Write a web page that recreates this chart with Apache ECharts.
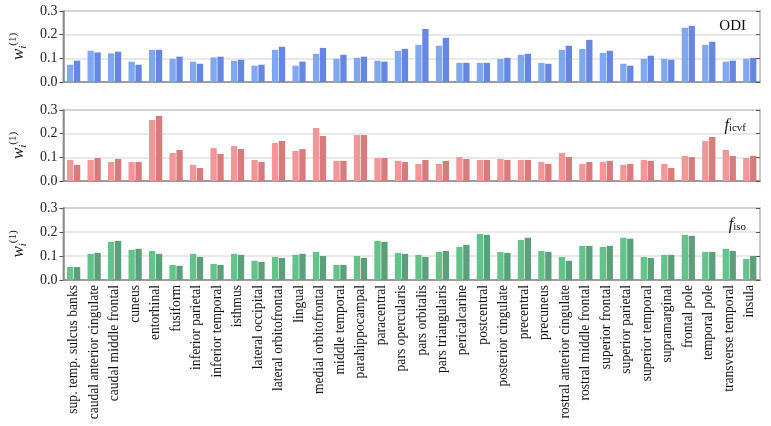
<!DOCTYPE html>
<html>
<head>
<meta charset="utf-8">
<script src="https://cdn.jsdelivr.net/npm/echarts@6/dist/echarts.min.js"></script>
<style>
  html, body { margin: 0; padding: 0; background: #fff; }
  #chart { width: 771px; height: 426px; }
</style>
</head>
<body>
<div id="chart"></div>
<script>
// brain regions
const regions = [
  'sup. temp. sulcus banks', 'caudal anterior cingulate', 'caudal middle frontal', 'cuneus',
  'entorhinal', 'fusiform', 'inferior parietal', 'inferior temporal', 'isthmus',
  'lateral occipital', 'lateral orbitofrontal', 'lingual', 'medial orbitofrontal',
  'middle temporal', 'parahippocampal', 'paracentral', 'pars opercularis', 'pars orbitalis',
  'pars triangularis', 'pericalcarine', 'postcentral', 'posterior cingulate', 'precentral',
  'precuneus', 'rostral anterior cingulate', 'rostral middle frontal', 'superior frontal',
  'superior parietal', 'superior temporal', 'supramarginal', 'frontal pole', 'temporal pole',
  'transverse temporal', 'insula'
];

// ODI (light / dark)
const odiA = [0.073, 0.132, 0.121, 0.086, 0.136, 0.098, 0.086, 0.104, 0.090, 0.069, 0.136, 0.069,
  0.119, 0.098, 0.102, 0.090, 0.132, 0.157, 0.153, 0.081, 0.081, 0.098, 0.115, 0.081,
  0.136, 0.140, 0.123, 0.077, 0.098, 0.098, 0.229, 0.157, 0.086, 0.098];
const odiB = [0.090, 0.125, 0.128, 0.073, 0.136, 0.107, 0.077, 0.107, 0.094, 0.073, 0.149, 0.086,
  0.144, 0.115, 0.107, 0.086, 0.140, 0.224, 0.187, 0.081, 0.081, 0.102, 0.119, 0.077,
  0.153, 0.178, 0.132, 0.069, 0.111, 0.094, 0.237, 0.170, 0.090, 0.102];

// f_icvf
const icvfA = [0.089, 0.089, 0.080, 0.080, 0.258, 0.118, 0.068, 0.139, 0.148, 0.089, 0.161, 0.127,
  0.224, 0.085, 0.194, 0.097, 0.085, 0.072, 0.072, 0.101, 0.089, 0.093, 0.089, 0.080,
  0.118, 0.072, 0.080, 0.068, 0.089, 0.072, 0.106, 0.169, 0.131, 0.097];
const icvfB = [0.068, 0.097, 0.093, 0.080, 0.275, 0.131, 0.055, 0.114, 0.135, 0.080, 0.169, 0.135,
  0.190, 0.085, 0.194, 0.097, 0.080, 0.089, 0.085, 0.093, 0.089, 0.089, 0.089, 0.072,
  0.101, 0.080, 0.085, 0.072, 0.085, 0.055, 0.101, 0.186, 0.106, 0.106];

// f_iso
const isoA = [0.054, 0.109, 0.159, 0.126, 0.121, 0.063, 0.109, 0.067, 0.109, 0.080, 0.096, 0.105,
  0.117, 0.063, 0.100, 0.163, 0.113, 0.105, 0.117, 0.138, 0.192, 0.117, 0.167, 0.121,
  0.096, 0.142, 0.138, 0.176, 0.096, 0.105, 0.188, 0.117, 0.130, 0.088];
const isoB = [0.054, 0.113, 0.163, 0.130, 0.109, 0.059, 0.096, 0.063, 0.105, 0.075, 0.092, 0.109,
  0.100, 0.063, 0.092, 0.159, 0.109, 0.096, 0.121, 0.146, 0.188, 0.113, 0.176, 0.117,
  0.080, 0.142, 0.142, 0.172, 0.092, 0.105, 0.184, 0.117, 0.121, 0.100];

const serif = 'Liberation Serif';
const grids = [
  { top: 11, height: 71 },
  { top: 110, height: 71 },
  { top: 208, height: 72 }
];
const colors = [
  ['#80a8f0', '#6686e3'],
  ['#f29697', '#d77b7c'],
  ['#63c38b', '#5ba07a']
];
const data = [[odiA, odiB], [icvfA, icvfB], [isoA, isoB]];

// italic f with a subscript, used for the panel tags
function tagRich() {
  return {
    fontWeight: 'normal',
    rich: {
      f: { fontFamily: serif, fontStyle: 'italic', fontWeight: 'normal', fontSize: 16, color: '#111' },
      s: { fontFamily: serif, fontWeight: 'normal', fontSize: 11, color: '#111', padding: [6, 0, 0, 0] }
    }
  };
}

const chart = echarts.init(document.getElementById('chart'));

let option = {
  backgroundColor: '#fff',
  animation: false,
  title: [
    { text: 'ODI', right: 20, top: 14, textStyle: { fontFamily: serif, fontSize: 15, fontWeight: 'normal', color: '#111' } },
    { text: '{f|f}{s|icvf}', right: 20, top: 112, textStyle: tagRich() },
    { text: '{f|f}{s|iso}', right: 20, top: 211, textStyle: tagRich() }
  ],
  grid: grids.map(g => ({
    left: 57, right: 11, top: g.top, height: g.height,
    show: true, borderColor: '#8a8a8a', borderWidth: 1.5
  })),
  xAxis: [0, 1, 2].map(i => ({
    type: 'category',
    gridIndex: i,
    data: regions,
    axisLine: { lineStyle: { color: '#8a8a8a', width: 1.5 } },
    axisTick: { show: false },
    axisLabel: i === 2 ? {
      interval: 0, rotate: 90, margin: 5,
      fontFamily: serif, fontSize: 13.6, color: '#111'
    } : { show: false }
  })),
  yAxis: [],
  series: []
};

for (let i = 0; i < 3; i++) {
  // left axis with labels
  option.yAxis.push({
    type: 'value', gridIndex: i, min: 0, max: 0.3, interval: 0.1,
    name: '{w|w}{i|i}{p|(1)}',
    nameLocation: 'middle', nameGap: 33, nameRotate: 90,
    nameTextStyle: { rich: {
      w: { fontFamily: serif, fontStyle: 'italic', fontSize: 17, color: '#111' },
      i: { fontFamily: serif, fontStyle: 'italic', fontSize: 11, color: '#111', padding: [10, 0, 0, 0] },
      p: { fontFamily: serif, fontSize: 11, color: '#111', padding: [0, 0, 10, 0] }
    } },
    axisLine: { show: true, lineStyle: { color: '#8a8a8a', width: 1.5 } },
    axisTick: { show: true, length: 4, lineStyle: { color: '#555' } },
    axisLabel: { fontFamily: serif, fontSize: 14, color: '#222', margin: 6, formatter: v => v.toFixed(1) },
    splitLine: { lineStyle: { color: '#e2e2e2', width: 1.5 } }
  });
  // right border with inner ticks
  option.yAxis.push({
    type: 'value', gridIndex: i, position: 'right', min: 0, max: 0.3, interval: 0.1,
    axisLine: { show: true, lineStyle: { color: '#c8c8c8', width: 2 } },
    axisTick: { show: true, inside: true, length: 4, lineStyle: { color: '#555' } },
    axisLabel: { show: false },
    splitLine: { show: false }
  });
  for (let k = 0; k < 2; k++) {
    option.series.push({
      type: 'bar',
      xAxisIndex: i,
      yAxisIndex: i * 2,
      data: data[i][k],
      barWidth: 6.3,
      barGap: '10%',
      itemStyle: { color: colors[i][k] }
    });
  }
}

chart.setOption(option);
</script>
</body>
</html>
